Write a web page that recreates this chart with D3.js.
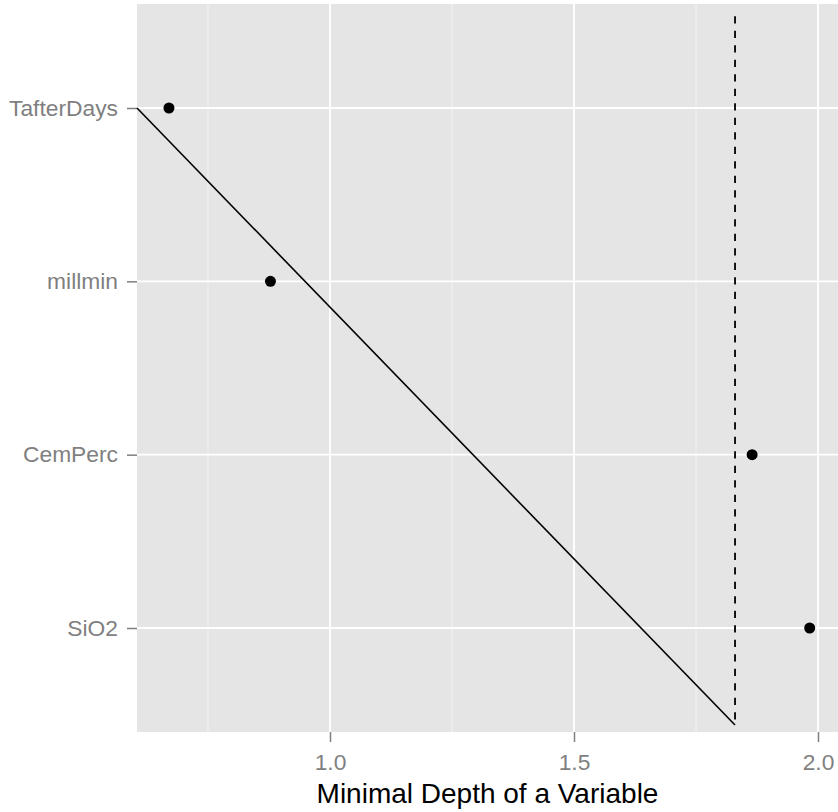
<!DOCTYPE html>
<html>
<head>
<meta charset="utf-8">
<script src="https://cdn.jsdelivr.net/npm/d3@7"></script>
<style>
  body { margin: 0; background: #fff; }
  text { font-family: "Liberation Sans", Arial, sans-serif; }
</style>
</head>
<body>
<div id="chart"></div>
<script>
// variables, bottom to top (rank 1..4)
var variables = ["SiO2", "CemPerc", "millmin", "TafterDays"];
var depth = [1.983, 1.865, 0.878, 0.67];

// threshold (dashed) and the reference line
var threshold = 1.83;
var thresholdRank = [0.435, 4.53];
var lineDepth = [0.6045, 1.83];
var lineRank = [4, 0.44];

var xTicks = [1.0, 1.5, 2.0];
var xMinor = [0.75, 1.25, 1.75];

var svgWidth = 838;
var svgHeight = 812;

var margin = { top: 4, right: 0, bottom: 80, left: 137 };
var chartWidth = svgWidth - margin.left - margin.right;
var chartHeight = svgHeight - margin.top - margin.bottom;

var svg = d3.select("#chart").append("svg")
  .attr("width", svgWidth)
  .attr("height", svgHeight);

var chartGroup = svg.append("g")
  .attr("transform", `translate(${margin.left}, ${margin.top})`);

var xScale = d3.scaleLinear()
  .domain([0.6045, 2.041])
  .range([0, chartWidth]);

var yScale = d3.scaleLinear()
  .domain([0.4, 4.6])
  .range([chartHeight, 0]);

// panel
chartGroup.append("rect")
  .attr("width", chartWidth)
  .attr("height", chartHeight)
  .attr("fill", "#e5e5e5");

// minor grid
chartGroup.selectAll(".minor")
  .data(xMinor)
  .enter()
  .append("line")
  .attr("x1", d => xScale(d))
  .attr("x2", d => xScale(d))
  .attr("y1", 0)
  .attr("y2", chartHeight)
  .attr("stroke", "#f2f2f2")
  .attr("stroke-width", 1);

// major grid
chartGroup.selectAll(".vgrid")
  .data(xTicks)
  .enter()
  .append("line")
  .attr("x1", d => xScale(d))
  .attr("x2", d => xScale(d))
  .attr("y1", 0)
  .attr("y2", chartHeight)
  .attr("stroke", "#fff")
  .attr("stroke-width", 1.8);

chartGroup.selectAll(".hgrid")
  .data(variables)
  .enter()
  .append("line")
  .attr("x1", 0)
  .attr("x2", chartWidth)
  .attr("y1", (d, i) => yScale(i + 1))
  .attr("y2", (d, i) => yScale(i + 1))
  .attr("stroke", "#fff")
  .attr("stroke-width", 1.8);

// axes
var bottomAxis = d3.axisBottom(xScale)
  .tickValues(xTicks)
  .tickFormat(d3.format(".1f"))
  .tickSize(10)
  .tickPadding(12);

var leftAxis = d3.axisLeft(yScale)
  .tickValues([1, 2, 3, 4])
  .tickFormat(d => variables[d - 1])
  .tickSize(10)
  .tickPadding(9);

var xAxisG = chartGroup.append("g")
  .attr("transform", `translate(0, ${chartHeight})`)
  .call(bottomAxis);

var yAxisG = chartGroup.append("g")
  .call(leftAxis);

[xAxisG, yAxisG].forEach(g => {
  g.select(".domain").remove();
  g.selectAll(".tick line").attr("stroke", "#7f7f7f").attr("stroke-width", 1.5);
  g.selectAll(".tick text")
    .attr("fill", "#7f7f7f")
    .style("font-size", "22.8px")
    .style("font-family", "'Liberation Sans', Arial, sans-serif");
});

// threshold line
chartGroup.append("line")
  .attr("x1", xScale(threshold))
  .attr("x2", xScale(threshold))
  .attr("y1", yScale(thresholdRank[1]))
  .attr("y2", yScale(thresholdRank[0]))
  .attr("stroke", "#000")
  .attr("stroke-width", 1.8)
  .attr("stroke-dasharray", "7.3,7.2");

// reference line
var lineData = lineDepth.map((d, i) => [d, lineRank[i]]);
chartGroup.append("path")
  .datum(lineData)
  .attr("d", d3.line().x(d => xScale(d[0])).y(d => yScale(d[1])))
  .attr("fill", "none")
  .attr("stroke", "#000")
  .attr("stroke-width", 1.6);

// points
chartGroup.selectAll(".pt")
  .data(depth)
  .enter()
  .append("circle")
  .attr("cx", d => xScale(d))
  .attr("cy", (d, i) => yScale(i + 1))
  .attr("r", 5.5)
  .attr("fill", "#000");

// axis title
svg.append("text")
  .attr("x", margin.left + chartWidth / 2)
  .attr("y", 802.5)
  .attr("text-anchor", "middle")
  .attr("fill", "#000")
  .style("font-size", "28px")
  .text("Minimal Depth of a Variable");
</script>
</body>
</html>
